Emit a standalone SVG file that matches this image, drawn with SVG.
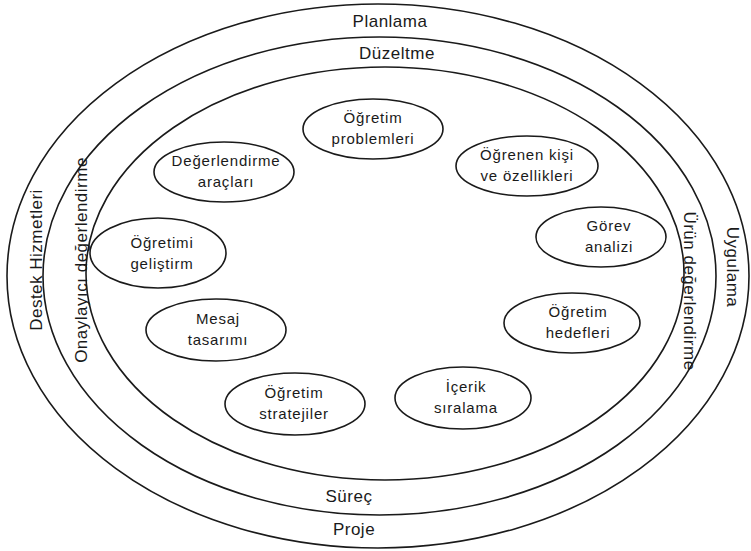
<svg xmlns="http://www.w3.org/2000/svg" width="751" height="551" viewBox="0 0 751 551">
  <style>
    .ring { fill: none; stroke: #1a1a1a; stroke-width: 1.6; }
    .node ellipse { fill: #ffffff; stroke: #1a1a1a; stroke-width: 1.6; }
    .node text { font-family: "Liberation Sans", Arial, sans-serif; font-size: 15px; letter-spacing: 0.8px; fill: #1a1a1a; text-anchor: middle; }
    .band { font-family: "Liberation Sans", Arial, sans-serif; font-size: 17px; letter-spacing: 0.5px; fill: #1a1a1a; text-anchor: middle; }
  </style>
  <rect width="751" height="551" fill="#ffffff"/>

  <!-- concentric rings -->
  <g id="rings">
    <ellipse class="ring" cx="378" cy="276" rx="371" ry="272"/>
    <ellipse class="ring" cx="379.5" cy="276" rx="336.5" ry="239"/>
    <ellipse class="ring" cx="385" cy="273.5" rx="299" ry="206.5"/>
  </g>

  <!-- ring labels -->
  <g id="ring-labels">
    <text class="band" x="390" y="27">Planlama</text>
    <text class="band" x="397" y="59">Düzeltme</text>
    <text class="band" x="349" y="502">Süreç</text>
    <text class="band" x="354" y="535">Proje</text>
    <text class="band" transform="translate(42 260) rotate(-90)">Destek Hizmetleri</text>
    <text class="band" transform="translate(87 260) rotate(-90)">Onaylayıcı değerlendirme</text>
    <text class="band" transform="translate(727 267) rotate(90)">Uygulama</text>
    <text class="band" transform="translate(684 291) rotate(90)">Ürün değerlendirme</text>
  </g>

  <g id="connectors"></g>

  <g id="n-problemleri" class="node">
    <ellipse cx="373" cy="129" rx="70" ry="30"/>
    <text x="373" y="123">Öğretim</text>
    <text x="373" y="144">problemleri</text>
  </g>
  <g id="n-ogrenen" class="node">
    <ellipse cx="527" cy="166" rx="71" ry="30"/>
    <text x="527" y="160">Öğrenen kişi</text>
    <text x="527" y="181">ve özellikleri</text>
  </g>
  <g id="n-gorev" class="node">
    <ellipse cx="601" cy="237" rx="65" ry="30"/>
    <text x="609" y="231">Görev</text>
    <text x="609" y="252">analizi</text>
  </g>
  <g id="n-hedefler" class="node">
    <ellipse cx="572" cy="323" rx="68" ry="30"/>
    <text x="578" y="317">Öğretim</text>
    <text x="578" y="338">hedefleri</text>
  </g>
  <g id="n-icerik" class="node">
    <ellipse cx="463" cy="398" rx="68" ry="31"/>
    <text x="466" y="392">İçerik</text>
    <text x="466" y="413">sıralama</text>
  </g>
  <g id="n-stratejiler" class="node">
    <ellipse cx="295" cy="404" rx="70" ry="31"/>
    <text x="294" y="398">Öğretim</text>
    <text x="294" y="419">stratejiler</text>
  </g>
  <g id="n-mesaj" class="node">
    <ellipse cx="216" cy="330" rx="70" ry="31"/>
    <text x="218" y="324">Mesaj</text>
    <text x="218" y="345">tasarımı</text>
  </g>
  <g id="n-gelistirme" class="node">
    <ellipse cx="158" cy="253" rx="68" ry="35"/>
    <text x="162" y="248">Öğretimi</text>
    <text x="162" y="269">geliştirm</text>
  </g>
  <g id="n-araclar" class="node">
    <ellipse cx="224" cy="172" rx="70" ry="30"/>
    <text x="226" y="166">Değerlendirme</text>
    <text x="226" y="187">araçları</text>
  </g>
</svg>
